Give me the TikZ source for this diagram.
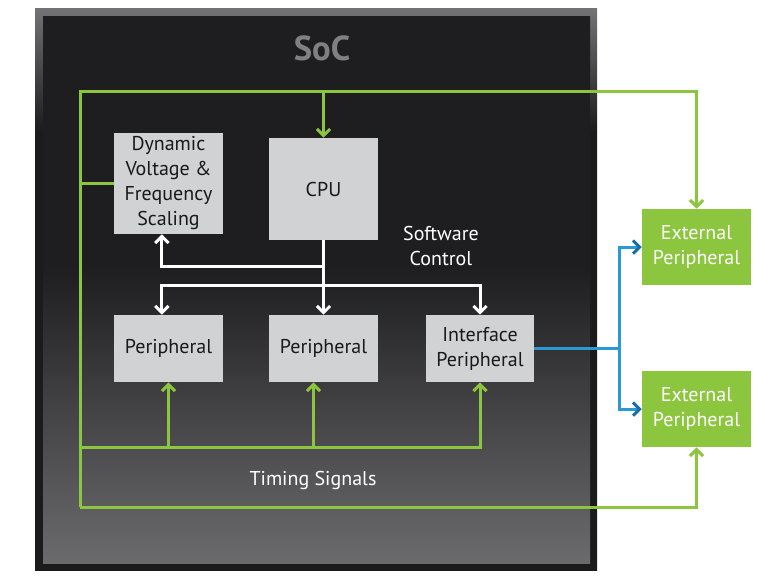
\documentclass[tikz,border=0pt]{standalone}
\usepackage{fontspec}
\setmainfont{PT Sans}
\usetikzlibrary{arrows.meta}
\definecolor{soclime}{HTML}{8CC63F}
\definecolor{boxgray}{HTML}{D1D2D4}
\definecolor{soctitle}{HTML}{808083}
\definecolor{linkblue}{HTML}{2A9AD4}
\definecolor{tipblue}{HTML}{1B6EA3}
\definecolor{framedark}{HTML}{1B1B1C}
\definecolor{framelight}{HTML}{737376}
\definecolor{innerdark}{HTML}{1E1E20}
\definecolor{innerlight}{HTML}{6B6B6D}
\pgfdeclareverticalshading{socframe}{100bp}{color(0bp)=(framedark); color(25bp)=(framedark); color(64bp)=(framedark); color(75bp)=(framelight); color(100bp)=(framelight)}
\pgfdeclareverticalshading{socinner}{100bp}{color(0bp)=(innerlight); color(25bp)=(innerlight); color(52bp)=(innerdark); color(100bp)=(innerdark)}
\newcommand{\boxfont}{\fontsize{15}{18.75}\selectfont}
\tikzset{
  box/.style={fill=boxgray, text=black!90, inner sep=0pt, align=center, font=\boxfont, minimum width=81.75pt},
  extbox/.style={box, fill=soclime, text=white},
  label/.style={text=white, align=center, font=\boxfont},
  greenline/.style={draw=soclime, line width=2.25pt},
  greenarrow/.style={greenline, -{Straight Barb[length=5pt,width=10pt]}},
  whitearrow/.style={draw=white, line width=2.25pt, -{Straight Barb[length=5pt,width=10pt]}},
  blueline/.style={draw=linkblue, line width=2.25pt},
  bluearrow/.style={blueline, -{Straight Barb[length=5pt,width=10pt,color=tipblue]}}
}
\begin{document}
\begin{tikzpicture}[x=0.75pt,y=-0.75pt]
\fill[white] (0,0) rectangle (770,579);
\shade[shading=socframe] (35,8) rectangle (597,570);
\shade[shading=socinner] (43,16) rectangle (590,563);
\node[text=soctitle, font=\fontsize{26}{30}\selectfont\bfseries] (soc) at (322,48) {SoC};

\node[box, minimum height=75.75pt] (dvfs) at (168.5,183.5) {Dynamic\\Voltage \&\\Frequency\\Scaling};
\node[box, minimum height=76.5pt] (cpu) at (323.5,189) {CPU};
\node[box, minimum height=50.25pt] (per1) at (168.5,348.5) {Peripheral};
\node[box, minimum height=50.25pt] (per2) at (323.5,348.5) {Peripheral};
\node[box, minimum height=50.25pt, minimum width=81pt] (ifper) at (480,348.5) {Interface\\Peripheral};
\node[extbox, minimum height=57pt] (ext1) at (696.5,247) {External\\Peripheral};
\node[extbox, minimum height=57pt] (ext2) at (696.5,409) {External\\Peripheral};
\node[label] (swctl) at (441,246) {Software\\Control};
\node[label] (timing) at (313,480) {Timing Signals};

\coordinate (tl) at (80,91);
\coordinate (bl) at (80,507);
\coordinate (tb) at (80,447);
\coordinate (swa) at (323.5,266);
\coordinate (swb) at (323.5,285);
\coordinate (bj) at (619,348.5);

\draw[greenarrow] (bl) -- (tl) -| (ext1.north);
\draw[greenarrow] (cpu.north |- tl) -- (cpu.north);
\draw[greenline] (dvfs.west -| tl) -- (dvfs.west);
\draw[greenarrow] (bl) -| (ext2.south);
\draw[greenarrow] (tb) -| (ifper.south);
\draw[greenarrow] (per1.south |- tb) -- (per1.south);
\draw[greenarrow] ([xshift=-7.5pt]per2.south |- tb) -- ([xshift=-7.5pt]per2.south);

\draw[whitearrow] (cpu.south) -- (per2.north);
\draw[whitearrow] (swa) -| ([xshift=-5pt]dvfs.south);
\draw[whitearrow] (swb) -| ([xshift=-5pt]per1.north);
\draw[whitearrow] (swb) -| (ifper.north);

\draw[blueline] (ifper.east) -- (bj);
\draw[bluearrow] (bj) |- (ext1.west);
\draw[bluearrow] (bj) |- (ext2.west);
\end{tikzpicture}
\end{document}
